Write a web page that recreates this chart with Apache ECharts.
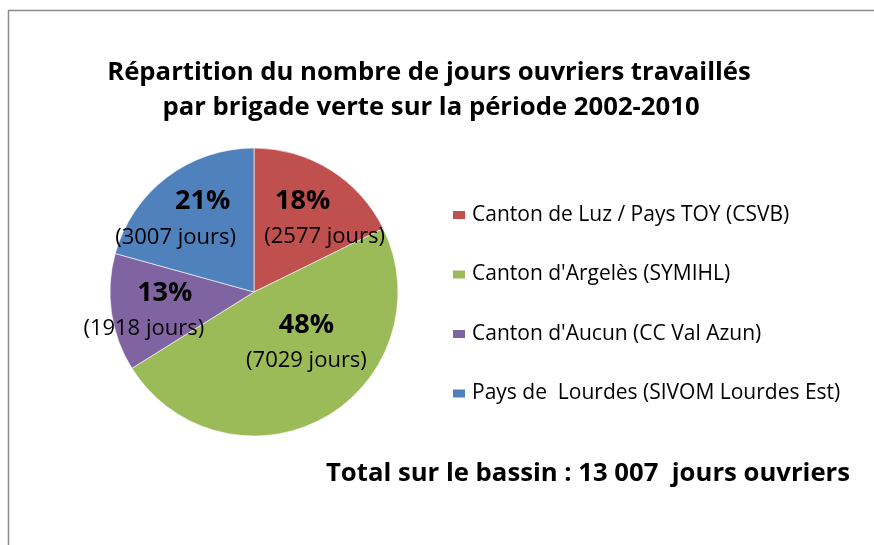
<!DOCTYPE html>
<html><head><meta charset="utf-8">
<script src="https://cdn.jsdelivr.net/npm/echarts@6/dist/echarts.min.js"></script>
<style>html,body{margin:0;padding:0;background:#fff}#c{width:874px;height:545px}</style>
</head><body><div id="c"></div>
<script>
const categories = ["Canton de Luz / Pays TOY (CSVB)", "Canton d'Argelès (SYMIHL)", "Canton d'Aucun (CC Val Azun)", "Pays de  Lourdes (SIVOM Lourdes Est)"];
const values = [2577, 7029, 1918, 3007];
const colors = ['#C0504D', '#9BBB59', '#8064A2', '#4F81BD'];
const titleLines = ["Répartition du nombre de jours ouvriers travaillés", "par brigade verte sur la période 2002-2010"];
const totalText = "Total sur le bassin : 13 007  jours ouvriers";

const FONT = '"Open Sans"';
// label placement tweaks (style only)
const labelOffsets = [[31, -10], [16, -15], [-36, 8], [-33, -13]];
const pctPads = [[0, 44, 0, 0], [0, 0, 0, 0], [0, 0, 0, 42], [0, 0, 0, 54]];

const chart = echarts.init(document.getElementById('c'), null, {renderer: 'canvas'});
const rich = {};
pctPads.forEach((p, i) => {
  rich['p' + i] = {fontFamily: FONT, fontWeight: 'bold', fontSize: 27, color: '#000', padding: p, lineHeight: 36};
});
rich.j = {fontFamily: FONT, fontSize: 22, color: '#000', lineHeight: 35};

chart.setOption({
  animation: false,
  backgroundColor: '#fff',
  color: colors,
  graphic: [
    {type: 'rect', shape: {x: 8.5, y: 10.5, width: 900, height: 600}, style: {fill: 'none', stroke: '#8c8c8c', lineWidth: 1.5}, z: -1},
    {type: 'text', x: 429, y: 73, style: {text: titleLines[0], font: 'bold 25.7px ' + FONT, fill: '#000', align: 'center', verticalAlign: 'middle'}},
    {type: 'text', x: 431, y: 108, style: {text: titleLines[1], font: 'bold 25.7px ' + FONT, fill: '#000', align: 'center', verticalAlign: 'middle'}},
    {type: 'text', x: 588, y: 474, style: {text: totalText, font: 'bold 25.7px ' + FONT, fill: '#000', align: 'center', verticalAlign: 'middle'}}
  ],
  legend: {
    orient: 'vertical',
    left: 451,
    top: 202,
    padding: 0,
    icon: 'rect',
    itemWidth: 14,
    itemHeight: 10,
    itemGap: 33.5,
    data: categories,
    textStyle: {fontFamily: FONT, fontSize: 21, color: '#000', lineHeight: 26, padding: [0, 0, 0, 1]}
  },
  series: [{
    type: 'pie',
    center: [254, 292],
    radius: 144,
    startAngle: 90,
    clockwise: true,
    percentPrecision: 0,
    avoidLabelOverlap: false,
    itemStyle: {borderColor: '#ffffff', borderWidth: 0.6},
    label: {
      show: true,
      position: 'inside',
      formatter: p => '{p' + p.dataIndex + '|' + p.percent + '%}\n{j|(' + p.value + ' jours)}',
      rich: rich
    },
    labelLine: {show: false},
    emphasis: {disabled: true},
    data: values.map((v, i) => ({value: v, name: categories[i], label: {offset: labelOffsets[i]}}))
  }]
});
</script></body></html>
